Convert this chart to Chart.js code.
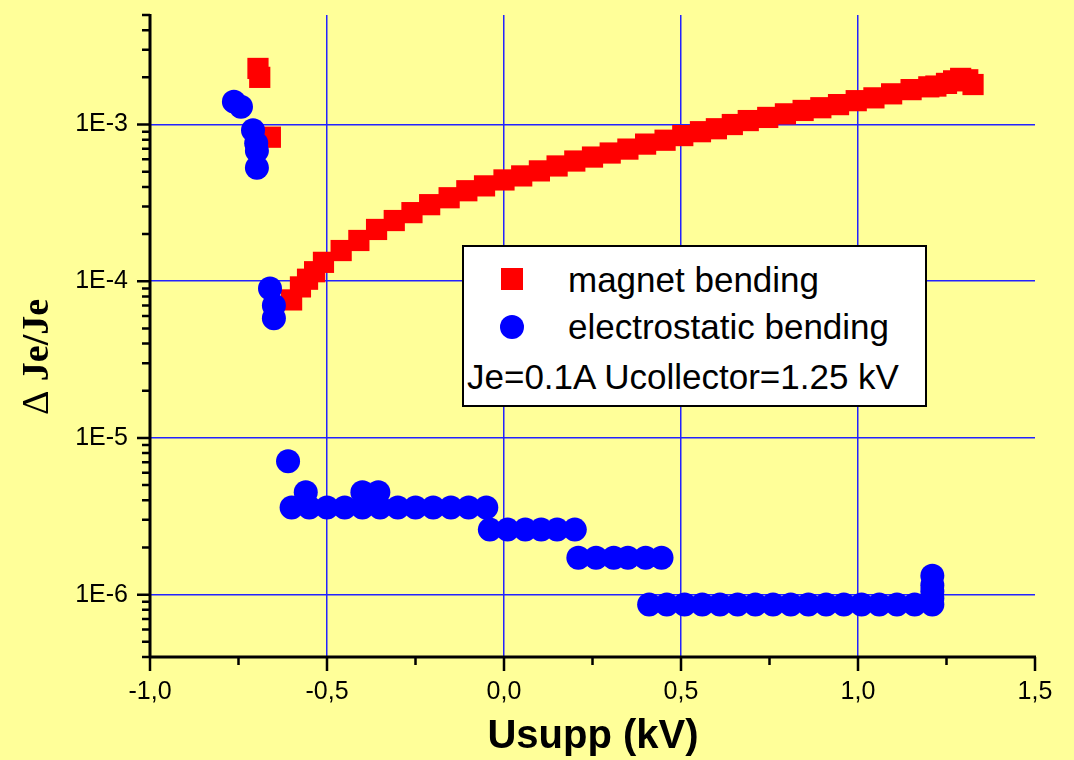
<!DOCTYPE html>
<html>
<head>
<meta charset="utf-8">
<script src="https://cdn.jsdelivr.net/npm/chart.js@4.4.1/dist/chart.umd.min.js"></script>
<style>
  body { margin: 0; background: #ffff99; }
  #wrap { position: relative; width: 1074px; height: 760px; background: #ffff99; overflow: hidden; }
  canvas { position: absolute; left: 0; top: 0; }
  .abs { position: absolute; white-space: nowrap; line-height: 1; color: #000; }
  #legend { position: absolute; left: 462px; top: 245px; width: 461px; height: 158px; background: #fff; border: 2px solid #000; }
  .lg { font-family: "Liberation Sans", Arial, sans-serif; font-size: 35px; }
</style>
</head>
<body>
<div id="wrap">
  <canvas id="chart" width="1074" height="760"></canvas>

  <div id="legend"></div>
  <div class="abs" style="left:501px; top:268px; width:22px; height:22px; background:#ff0000;"></div>
  <div class="abs lg" style="left:568px; top:262px;">magnet bending</div>
  <div class="abs" style="left:500px; top:315px; width:24px; height:24px; border-radius:50%; background:#0000ff;"></div>
  <div class="abs lg" style="left:568px; top:309px;">electrostatic bending</div>
  <div class="abs lg" style="left:467px; top:359px;">Je=0.1A Ucollector=1.25 kV</div>

  <div class="abs" style="left:-65px; top:338px; width:200px; height:38px; text-align:center; transform:rotate(-90deg);
       font-family:'Liberation Serif', 'Times New Roman', serif; font-size:38px; font-weight:bold;">
    <span style="font-weight:normal;">&Delta;</span> Je/Je</div>
  <div class="abs" style="left:393px; top:714px; width:400px; text-align:center;
       font-family:'Liberation Sans', Arial, sans-serif; font-size:40px; font-weight:bold;">Usupp (kV)</div>
</div>

<script>
// magnet bending (red squares)
const magnetX = [-0.695, -0.69, -0.66,
  -0.60, -0.575, -0.555, -0.535, -0.51, -0.46, -0.41, -0.36, -0.31, -0.26, -0.21, -0.155, -0.105, -0.055,
  0.0, 0.05, 0.10, 0.15, 0.20, 0.25, 0.30, 0.35, 0.40, 0.455, 0.505, 0.555, 0.60, 0.645, 0.69, 0.745,
  0.795, 0.845, 0.895, 0.945, 0.995, 1.045, 1.095, 1.15, 1.20, 1.22, 1.25, 1.27, 1.29, 1.31, 1.325];
const magnetY = [2.28e-3, 2.0e-3, 8.3e-4,
  7.6e-5, 9.2e-5, 1.03e-4, 1.15e-4, 1.32e-4, 1.57e-4, 1.82e-4, 2.14e-4, 2.44e-4, 2.74e-4, 3.08e-4, 3.41e-4, 3.78e-4, 4.06e-4,
  4.43e-4, 4.7e-4, 5.06e-4, 5.44e-4, 5.85e-4, 6.2e-4, 6.58e-4, 6.97e-4, 7.5e-4, 7.94e-4, 8.5e-4, 9.0e-4, 9.4e-4, 1.0e-3, 1.06e-3, 1.11e-3,
  1.17e-3, 1.23e-3, 1.28e-3, 1.34e-3, 1.42e-3, 1.48e-3, 1.57e-3, 1.67e-3, 1.74e-3, 1.76e-3, 1.83e-3, 1.9e-3, 1.97e-3, 1.93e-3, 1.8e-3];

// electrostatic bending (blue circles)
const electroX = [-0.763, -0.743, -0.709, -0.70, -0.698, -0.698,
  -0.661, -0.65, -0.65, -0.61,
  -0.60, -0.55, -0.50, -0.45, -0.40, -0.35, -0.30, -0.25, -0.20, -0.15, -0.10, -0.05,
  -0.56, -0.40, -0.355,
  -0.04, 0.01, 0.06, 0.105, 0.15, 0.20,
  0.21, 0.26, 0.31, 0.35, 0.40, 0.445,
  0.41, 0.46, 0.51, 0.56, 0.61, 0.66, 0.71, 0.76, 0.81, 0.86, 0.91, 0.96, 1.01, 1.06, 1.11, 1.16, 1.21,
  1.21, 1.21, 1.21, 1.21];
const electroY = [1.4e-3, 1.3e-3, 9.2e-4, 7.6e-4, 6.8e-4, 5.3e-4,
  9.0e-5, 7.0e-5, 5.8e-5, 7.1e-6,
  3.6e-6, 3.6e-6, 3.6e-6, 3.6e-6, 3.6e-6, 3.6e-6, 3.6e-6, 3.6e-6, 3.6e-6, 3.6e-6, 3.6e-6, 3.6e-6,
  4.5e-6, 4.5e-6, 4.5e-6,
  2.6e-6, 2.6e-6, 2.6e-6, 2.6e-6, 2.6e-6, 2.6e-6,
  1.72e-6, 1.72e-6, 1.72e-6, 1.72e-6, 1.72e-6, 1.72e-6,
  8.65e-7, 8.65e-7, 8.65e-7, 8.65e-7, 8.65e-7, 8.65e-7, 8.65e-7, 8.65e-7, 8.65e-7, 8.65e-7, 8.65e-7, 8.65e-7, 8.65e-7, 8.65e-7, 8.65e-7, 8.65e-7, 8.65e-7,
  0.95e-6, 1.05e-6, 1.15e-6, 1.32e-6];

// axis ranges and labelled ticks
const xMin = -1.0, xMax = 1.5;
const xMajor = [-1.0, -0.5, 0.0, 0.5, 1.0, 1.5];
const yMin = 4e-7, yMax = 5e-3;
const yDecades = [1e-6, 1e-5, 1e-4, 1e-3];

const toPoints = (xs, ys) => xs.map((x, i) => ({ x: x, y: ys[i] }));

// axis lines with long/short tick marks, like the original plot
const axisPlugin = {
  id: 'axisTicks',
  afterDraw(chart) {
    const ctx = chart.ctx, xs = chart.scales.x, ys = chart.scales.y;
    const a = chart.chartArea;
    ctx.save();
    ctx.strokeStyle = '#000';
    ctx.lineWidth = 3;
    ctx.beginPath();
    ctx.moveTo(a.left, a.top - 1);
    ctx.lineTo(a.left, a.bottom + 1);
    ctx.moveTo(a.left - 1, a.bottom);
    ctx.lineTo(a.right + 1, a.bottom);
    ctx.stroke();

    ctx.lineWidth = 2.5;
    ctx.beginPath();
    for (let v = xMin; v <= xMax + 1e-9; v += 0.25) {
      const px = xs.getPixelForValue(v);
      const major = Math.abs(v * 2 - Math.round(v * 2)) < 1e-6;
      ctx.moveTo(px, a.bottom);
      ctx.lineTo(px, a.bottom + (major ? 14 : 8));
    }
    for (let e = -7; e <= -3; e++) {
      for (let k = 1; k <= 9; k++) {
        const v = k * Math.pow(10, e);
        if (v < yMin * 0.999 || v > yMax * 1.001) continue;
        const py = ys.getPixelForValue(v);
        ctx.moveTo(a.left, py);
        ctx.lineTo(a.left - (k === 1 ? 13 : 8), py);
      }
    }
    ctx.stroke();
    ctx.restore();
  }
};

new Chart(document.getElementById('chart'), {
  type: 'scatter',
  data: {
    datasets: [
      {
        label: 'electrostatic bending',
        data: toPoints(electroX, electroY),
        pointStyle: 'circle',
        pointRadius: 12,
        backgroundColor: '#0000ff',
        borderWidth: 0,
        order: 0
      },
      {
        label: 'magnet bending',
        data: toPoints(magnetX, magnetY),
        pointStyle: 'rect',
        pointRadius: 15,
        backgroundColor: '#ff0000',
        borderWidth: 0,
        order: 1
      }
    ]
  },
  options: {
    responsive: false,
    animation: false,
    devicePixelRatio: 1,
    layout: { padding: { top: 11, right: 39, left: 0, bottom: 0 } },
    plugins: { legend: { display: false }, tooltip: { enabled: false } },
    scales: {
      x: {
        type: 'linear',
        min: xMin,
        max: xMax,
        afterFit: (s) => { s.height = 103; s.paddingLeft = 0; s.paddingRight = 0; },
        afterBuildTicks: (s) => { s.ticks = xMajor.map(v => ({ value: v })); },
        border: { display: false },
        grid: {
          drawTicks: false,
          lineWidth: 1.5,
          color: (c) => (c.tick && (c.tick.value === xMin || c.tick.value === xMax)) ? 'rgba(0,0,0,0)' : '#2323ff'
        },
        ticks: {
          padding: 20,
          color: '#000',
          font: { family: 'Liberation Sans', size: 25 },
          maxRotation: 0,
          callback: (v) => Number(v).toFixed(1).replace('.', ',')
        }
      },
      y: {
        type: 'logarithmic',
        min: yMin,
        max: yMax,
        // drop the label padding Chart.js adds above/below a vertical axis
        afterFit: (s) => { s.width = 150; s.paddingTop = 0; s.paddingBottom = 0; },
        afterBuildTicks: (s) => { s.ticks = yDecades.map(v => ({ value: v })); },
        border: { display: false },
        grid: { drawTicks: false, lineWidth: 1.5, color: '#2323ff' },
        ticks: {
          padding: 22,
          color: '#000',
          font: { family: 'Liberation Sans', size: 25 },
          callback: (v) => '1E' + Math.round(Math.log10(v))
        }
      }
    }
  },
  plugins: [axisPlugin]
});
</script>
</body>
</html>
